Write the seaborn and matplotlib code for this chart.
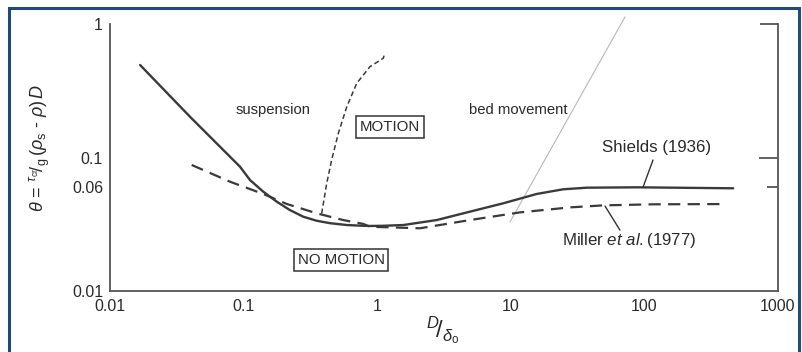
import numpy as np
import pandas as pd
import matplotlib
matplotlib.use("Agg")
import matplotlib.pyplot as plt
import seaborn as sns
from matplotlib.patches import Rectangle
from matplotlib.ticker import FixedLocator, NullLocator

# ---------------- data ----------------
shields_x = [0.0168, 0.0397, 0.094, 0.1117, 0.1405, 0.177, 0.222, 0.280, 0.352, 0.444, 0.592,
             0.787, 0.883, 1.11, 1.568, 2.79, 4.95, 8.79, 15.6, 24.7, 37.0, 87.6, 462]
shields_y = [0.493, 0.202, 0.0853, 0.0678, 0.0554, 0.0467, 0.0404, 0.0360, 0.0336, 0.0322, 0.0312,
             0.0308, 0.0307, 0.0308, 0.0312, 0.0340, 0.0393, 0.0454, 0.0533, 0.0578, 0.0594, 0.0598, 0.0588]

miller_x = [0.0409, 0.079, 0.1405, 0.210, 0.352, 0.557, 0.787, 0.883, 2.09, 4.95, 11.7, 27.7, 49.2, 116.6, 390]
miller_y = [0.0879, 0.0659, 0.0533, 0.0449, 0.0382, 0.0340, 0.0318, 0.0303, 0.0295, 0.0340, 0.0388, 0.0423, 0.0438, 0.0446, 0.0448]

susp_x = [0.384, 0.419, 0.456, 0.512, 0.592, 0.703, 0.883, 1.11, 1.14]
susp_y = [0.038, 0.0641, 0.0958, 0.152, 0.240, 0.360, 0.479, 0.554, 0.604]

bed_x = [9.86, 71.6]
bed_y = [0.0329, 1.13]

xticks = [0.01, 0.1, 1, 10, 100, 1000]
xtick_labels = ["0.01", "0.1", "1", "10", "100", "1000"]
yticks = [0.01, 0.06, 0.1, 1]
ytick_labels = ["0.01", "0.06", "0.1", "1"]

# ---------------- style ----------------
sns.set_style("white")
plt.rcParams["font.family"] = ["Liberation Sans", "DejaVu Sans"]
plt.rcParams["mathtext.fontset"] = "custom"
plt.rcParams["mathtext.rm"] = "Liberation Sans"
plt.rcParams["mathtext.it"] = "Liberation Sans:italic"
plt.rcParams["mathtext.bf"] = "Liberation Sans:bold"

W, H = 803, 352
fig = plt.figure(figsize=(W / 100, H / 100), dpi=100)
fig.patch.set_facecolor("white")
ax = fig.add_axes([110 / W, 1 - 291 / H, (778 - 110) / W, (291 - 24) / H])
ax.set_facecolor("white")

curve_col = "#3a3a3a"
df_sh = pd.DataFrame({"x": shields_x, "y": shields_y})
df_mi = pd.DataFrame({"x": miller_x, "y": miller_y})
df_su = pd.DataFrame({"x": susp_x, "y": susp_y})
df_bed = pd.DataFrame({"x": bed_x, "y": bed_y})

sns.lineplot(data=df_bed, x="x", y="y", ax=ax, color="#b8b8b8", lw=0.8, estimator=None)
ax.lines[-1].set_clip_on(False)
sns.lineplot(data=df_su, x="x", y="y", ax=ax, color=curve_col, lw=1.1, estimator=None)
ax.lines[-1].set_linestyle((0, (3.3, 2.0)))
sns.lineplot(data=df_mi, x="x", y="y", ax=ax, color=curve_col, lw=1.6, estimator=None)
ax.lines[-1].set_linestyle((0, (5.5, 3.3)))
sns.lineplot(data=df_sh, x="x", y="y", ax=ax, color=curve_col, lw=1.7, estimator=None)
for ln in ax.lines:
    ln.set_solid_joinstyle("round")
    ln.set_dash_joinstyle("round")

ax.set_xscale("log")
ax.set_yscale("log")
ax.set_xlim(0.01, 1000)
ax.set_ylim(0.01, 1)
ax.set_xlabel("")
ax.set_ylabel("")

spine_col = "#555555"
for s in ["left", "bottom", "right"]:
    ax.spines[s].set_visible(True)
    ax.spines[s].set_color(spine_col)
    ax.spines[s].set_linewidth(1.3)
ax.spines["top"].set_visible(False)

ax.xaxis.set_major_locator(FixedLocator(xticks))
ax.xaxis.set_minor_locator(NullLocator())
ax.yaxis.set_major_locator(FixedLocator(yticks))
ax.yaxis.set_minor_locator(NullLocator())
ax.set_xticks(xticks)
ax.set_xticklabels(xtick_labels)
ax.set_yticks(yticks)
ax.set_yticklabels(ytick_labels)
ax.tick_params(axis="both", which="major", direction="in", width=1.3, color=spine_col,
               labelsize=11.5, labelcolor="#2a2a2a")
ax.tick_params(axis="x", length=10.8, pad=6)
ax.tick_params(axis="y", length=12.2, pad=5, right=True, labelright=False)

# per-tick lengths (order: 0.01, 0.06, 0.1, 1)
ytk = ax.yaxis.get_major_ticks()
ytk[0].tick1line.set_visible(False)
ytk[0].tick2line.set_visible(False)
ytk[1].tick1line.set_markersize(5.8)
ytk[1].tick2line.set_markersize(8.0)
ytk[2].tick2line.set_markersize(13.5)
ytk[3].tick2line.set_markersize(13.0)
xtk = ax.xaxis.get_major_ticks()
xtk[0].tick1line.set_visible(False)
xtk[-1].tick1line.set_visible(False)

# ---------------- annotations ----------------
txt_col = "#2a2a2a"
ax.text(0.166, 0.227, "suspension", fontsize=10.7, ha="center", va="center", color=txt_col)
ax.text(11.3, 0.227, "bed movement", fontsize=10.7, ha="center", va="center", color=txt_col)
box = dict(boxstyle="square,pad=0.25", facecolor="white", edgecolor="#333333", lw=1.1)
ax.text(1.25, 0.169, "MOTION", fontsize=10.8, ha="center", va="center", color=txt_col, bbox=box)
ax.text(0.536, 0.0171, "NO MOTION", fontsize=10.8, ha="center", va="center", color=txt_col, bbox=box)
ax.text(124, 0.118, "Shields (1936)", fontsize=12.2, ha="center", va="center", color=txt_col)
ax.text(76.7, 0.0241, r"Miller $\it{et\ al.}\!\!$ (1977)", fontsize=12.2, ha="center", va="center", color=txt_col)
ax.annotate("", xy=(97.7, 0.060), xytext=(116, 0.0958),
            arrowprops=dict(arrowstyle="-", color="#333333", lw=1.0, shrinkA=0, shrinkB=0))
ax.annotate("", xy=(65.6, 0.0286), xytext=(50.7, 0.0433),
            arrowprops=dict(arrowstyle="-", color="#333333", lw=1.0, shrinkA=0, shrinkB=0))

# axis labels
fig.text(40 / W, 1 - 148 / H,
         r"$\theta$ = ${}^{\tau_{\mathrm{cr}}}\!/_{\mathrm{g}}\,(\rho_{\mathrm{s}}$ - $\rho)\,\it{D}$",
         rotation=90, ha="center", va="center", fontsize=13, color=txt_col)
fig.text(443 / W, 1 - 330 / H, r"${}^{\it{D}}\!/_{\delta_{\mathrm{o}}}$",
         ha="center", va="center", fontsize=17, color=txt_col)

# blue frame around the figure
fig.patches.append(Rectangle((9 / W, -0.05), (799 - 9) / W, (1 - 7.5 / H) + 0.05,
                             transform=fig.transFigure, fill=False,
                             edgecolor="#1f4a7a", lw=2.2, zorder=10))

fig.savefig("out.png", dpi=100, facecolor="white")
